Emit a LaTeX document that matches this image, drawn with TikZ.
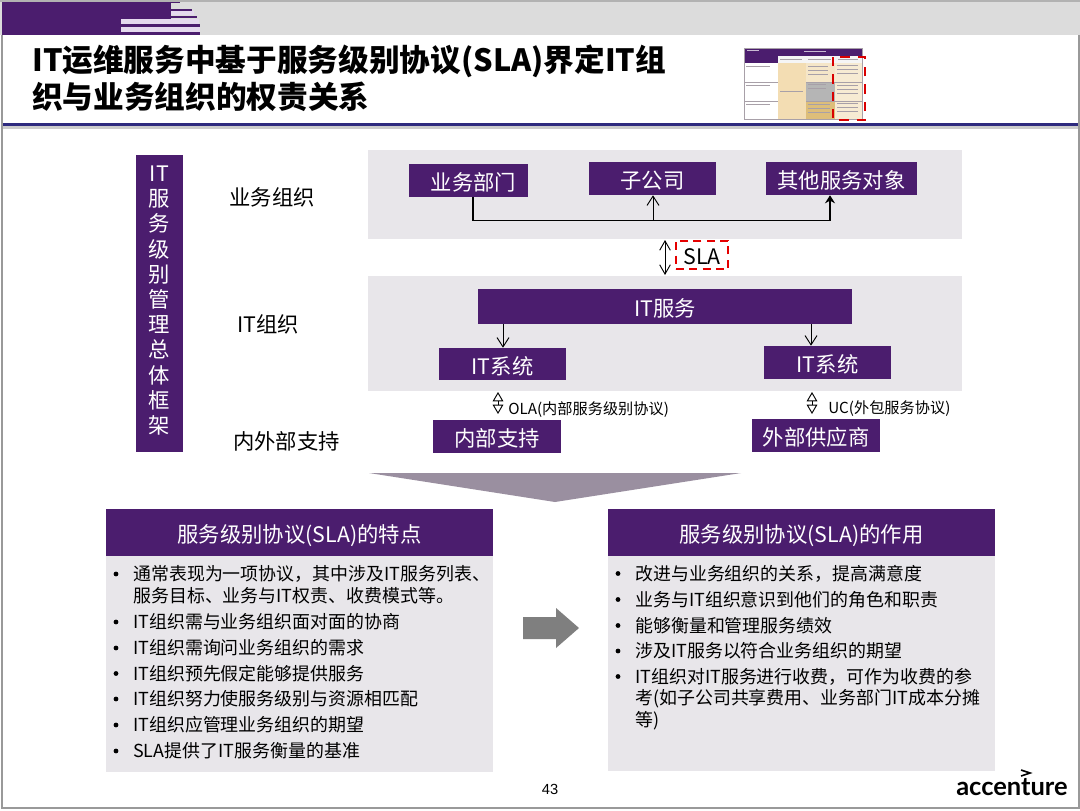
\documentclass[tikz,border=0pt]{standalone}
\usepackage{fontspec}
\setmainfont{Noto Sans CJK SC}
\newfontfamily\latinf{Liberation Sans}
\newfontfamily\logof{Lato}
\newfontfamily\heavyf{Noto Sans CJK SC Black}
\usetikzlibrary{arrows.meta}
\definecolor{acnpurple}{HTML}{4B1D6E}
\definecolor{panelgray}{HTML}{E8E6EA}
\definecolor{bandgray}{HTML}{DCDCDC}
\definecolor{lilac}{HTML}{E4D9EE}
\definecolor{rulepurple}{HTML}{2E2A7E}
\definecolor{arrowgray}{HTML}{9A8FA0}
\definecolor{blockgray}{HTML}{7F7F7F}
\definecolor{beigeA}{HTML}{F3DDB3}
\definecolor{beigeB}{HTML}{F5E6C8}
\definecolor{beigeC}{HTML}{F7EBD3}
\definecolor{goldA}{HTML}{DDBE7A}
\definecolor{grayA}{HTML}{B5B5B5}
\definecolor{tblgray}{HTML}{A8A0A8}
\tikzset{
  pbox/.style={fill=acnpurple,text=white,inner sep=0pt,text height=17pt,text depth=1.8pt,font=\fontsize{16}{18}\selectfont},
  lbl/.style={inner sep=0pt,font=\fontsize{16}{18}\selectfont},
  smalll/.style={inner sep=0pt,anchor=west,font=\fontsize{11.4}{13}\selectfont},
  conn/.style={black,line width=0.7pt,-{Straight Barb[length=7pt,width=9pt]}},
  connf/.style={black,line width=0.9pt,-{Stealth[length=6pt,width=7.5pt]}},
  dbl/.style={black,line width=0.7pt,{Straight Barb[length=7pt,width=8pt]}-{Straight Barb[length=7pt,width=8pt]}},
  dblhollow/.style={black,line width=0.7pt,{Triangle[open,fill=white,length=7pt,width=8pt]}-{Triangle[open,fill=white,length=7pt,width=8pt]}},
  bline/.style={anchor=west,inner sep=0pt,font=\fontsize{13.45}{16}\selectfont},
  titlet/.style={anchor=west,inner sep=0pt,font=\fontsize{23}{26}\selectfont\heavyf},
  thumbline/.style={tblgray,line width=0.4pt},
  thumbwhite/.style={white!70!acnpurple,line width=0.5pt},
}
\newcommand{\bulletat}[2]{\fill[black] (#1,#2) circle (2.4);}
\begin{document}
\begin{tikzpicture}[x=0.75pt,y=-0.75pt]
\useasboundingbox (0,0) rectangle (1080,810);
\fill[white] (0,0) rectangle (1080,810);
% top band
\fill[bandgray] (0,0) rectangle (1080,35);
\fill[acnpurple] (2,1) rectangle (171,19);
\fill[acnpurple] (2,19) rectangle (121,35);
\fill[acnpurple] (171,1) rectangle (180,3);
\fill[acnpurple] (171,9) rectangle (192,11);
\fill[lilac] (171,11) rectangle (194,15);
\fill[acnpurple] (171,15.5) rectangle (197,18);
\fill[lilac] (121,19) rectangle (199,24);
\fill[acnpurple] (121,24) rectangle (200,27);
\fill[lilac] (121,27) rectangle (200,32);
\fill[acnpurple] (121,32) rectangle (200,35);
% frame
\draw[gray!80,line width=1.5pt] (2,35) -- (2,808) -- (1079,808) -- (1079,35);
\draw[gray!60,line width=0.8pt] (0,1) -- (1080,1);
% title
\node[titlet] (t1) at (32,61) {IT运维服务中基于服务级别协议(SLA)界定IT组};
\node[titlet] (t2) at (32,97) {织与业务组织的权责关系};
\fill[gray!40] (3,126) rectangle (1078,129);
\fill[rulepurple] (3,122.5) rectangle (1078,126);
% thumbnail
\fill[acnpurple] (744,48) rectangle (862,63);
\fill[white!92!gray] (778,56) rectangle (862,63);
\fill[beigeA] (778,63) rectangle (806,119.5);
\fill[beigeB] (806,63) rectangle (835,81.7);
\fill[grayA] (806,81.7) rectangle (835,101);
\fill[goldA] (806,101) rectangle (835,119.5);
\fill[beigeC] (835,63) rectangle (862,119.5);
\draw[tblgray,line width=0.4pt] (744,48) rectangle (862,119.5);
\draw[tblgray,line width=0.3pt] (744,81.7) -- (778,81.7) (744,101) -- (778,101) (806,81.7) -- (862,81.7) (806,101) -- (862,101);
\foreach \y in {66,85,104} {\draw[thumbline] (746,\y) -- (770,\y);}
\draw[thumbwhite] (747,50.5) -- (759,50.5) (804,51) -- (826,51);
\draw[thumbline] (780,59) -- (802,59) (808,59) -- (831,59) (838,59) -- (858,59);
\draw[thumbline] (780,91) -- (803,91);
\foreach \y in {66,70,74} {\draw[thumbline] (808,\y) -- (828,\y);}
\foreach \y in {84,88} {\draw[thumbline] (808,\y) -- (826,\y);}
\foreach \y in {104,108,112} {\draw[thumbline] (808,\y) -- (830,\y);}
\foreach \y in {65,69,73,85,89,93,103,107,111} {\draw[thumbline] (837,\y) -- (858,\y);}
\draw[red!85!black,line width=1.8pt,dash pattern=on 7pt off 6pt] (833,57) rectangle (865,120);
% panels
\fill[panelgray] (368,150) rectangle (962,239);
\fill[panelgray] (368,276) rectangle (962,391);
\fill[panelgray] (106,556) rectangle (493,772);
\fill[panelgray] (608,556) rectangle (995,771);
% vertical title
\fill[acnpurple] (136,155) rectangle (183,452);
\node[text=white,inner sep=0pt,align=center,font=\fontsize{16}{18.9}\selectfont] (vt) at (159.5,300.5) {IT\\服\\务\\级\\别\\管\\理\\总\\体\\框\\架};
% labels
\node[lbl] (l1) at (272,197) {业务组织};
\node[lbl] (l2) at (268,324) {IT组织};
\node[lbl] (l3) at (286.5,441) {内外部支持};
% boxes
\newcommand{\pb}[6]{\node[pbox,minimum width=#4*0.75pt,minimum height=#5*0.75pt] (#1) at (#2,#3) {#6};}
\pb{bd}{468.5}{180}{119}{33}{\hspace*{7.5pt}业务部门}
\pb{sub}{652.5}{178.5}{127}{33}{子公司}
\pb{oth}{841.5}{178.5}{151}{33}{其他服务对象}
\pb{its}{665}{306.5}{374}{35}{IT服务}
\pb{sysa}{502.5}{364}{127}{32}{IT系统}
\pb{sysb}{827.5}{362.5}{127}{33}{IT系统}
\pb{ins}{497}{436.5}{128}{33}{内部支持}
\pb{ext}{816}{435.5}{128}{33}{外部供应商}
% bus connector
\coordinate (c1) at (473,220.5);
\coordinate (c2) at (653,220.5);
\coordinate (c3) at (830,220.5);
\draw[connf] (bd.south -| c1) -- (c1) -- (c3) -- (oth.south -| c3);
\draw[conn] (c2) -- (sub.south -| c2);
% SLA
\node[inner sep=0pt,text height=16pt,text depth=1.8pt,minimum width=39pt,minimum height=21pt,font=\fontsize{16}{18}\selectfont,draw=red!90!black,line width=1.7pt,dash pattern=on 6pt off 4pt] (sla) at (702,255) {SLA};
\coordinate (d1) at (665,240);
\coordinate (d2) at (665,275);
\draw[dbl] (d1) -- (d2);
% IT service arrows
\coordinate (e1) at (503,324);
\coordinate (e2) at (811,324);
\draw[conn] (its.south -| e1) -- (sysa.north -| e1);
\draw[conn] (its.south -| e2) -- (sysb.north -| e2);
% hollow double arrows
\coordinate (f1) at (498,392);
\coordinate (f2) at (498,414);
\coordinate (g1) at (812,392);
\coordinate (g2) at (812,414);
\draw[dblhollow] (f1) -- (f2);
\draw[dblhollow] (g1) -- (g2);
\node[smalll] (ola) at (508,410) {OLA(内部服务级别协议)};
\node[smalll] (uc) at (828,409) {UC(外包服务协议)};
% big triangle
\fill[arrowgray] (369,473) -- (741,473) -- (555,502) -- cycle;
% feature boxes
\node[pbox,minimum width=290.25pt,minimum height=35.25pt] (fh) at (299.5,532.5) {服务级别协议(SLA)的特点};
\node[pbox,minimum width=290.25pt,minimum height=35.25pt] (rh) at (801.5,532.5) {服务级别协议(SLA)的作用};
% left list
\bulletat{116}{574}
\node[bline] (a1) at (133,574) {通常表现为一项协议，其中涉及IT服务列表、};
\node[bline] (a2) at (133,596) {服务目标、业务与IT权责、收费模式等。};
\bulletat{116}{622}
\node[bline] (a3) at (133,622) {IT组织需与业务组织面对面的协商};
\bulletat{116}{648}
\node[bline] (a4) at (133,648) {IT组织需询问业务组织的需求};
\bulletat{116}{673.5}
\node[bline] (a5) at (133,673.5) {IT组织预先假定能够提供服务};
\bulletat{116}{699}
\node[bline] (a6) at (133,699) {IT组织努力使服务级别与资源相匹配};
\bulletat{116}{725}
\node[bline] (a7) at (133,725) {IT组织应管理业务组织的期望};
\bulletat{116}{751}
\node[bline] (a8) at (133,751) {SLA提供了IT服务衡量的基准};
% right list
\bulletat{618}{573.5}
\node[bline] (b1) at (635,573.5) {改进与业务组织的关系，提高满意度};
\bulletat{618}{599.5}
\node[bline] (b2) at (635,599.5) {业务与IT组织意识到他们的角色和职责};
\bulletat{618}{625.5}
\node[bline] (b3) at (635,625.5) {能够衡量和管理服务绩效};
\bulletat{618}{651}
\node[bline] (b4) at (635,651) {涉及IT服务以符合业务组织的期望};
\bulletat{618}{676.5}
\node[bline] (b5) at (635,676.5) {IT组织对IT服务进行收费，可作为收费的参};
\node[bline] (b6) at (635,699) {考(如子公司共享费用、业务部门IT成本分摊};
\node[bline] (b7) at (635,721) {等)};
% central block arrow
\fill[blockgray] (523,617) -- (556,617) -- (556,608) -- (579,628) -- (556,648) -- (556,639) -- (523,639) -- cycle;
% footer
\node[inner sep=0pt,font=\latinf\fontsize{11}{13}\selectfont] (pg) at (550,789) {43};
\node[anchor=west,inner sep=0pt,font=\logof\bfseries\fontsize{19.1}{24}\selectfont] (logo) at (956,787) {accenture};
\draw[black,line width=1.2pt] (1021,770) -- (1030,773) -- (1021,776);
\end{tikzpicture}
\end{document}
